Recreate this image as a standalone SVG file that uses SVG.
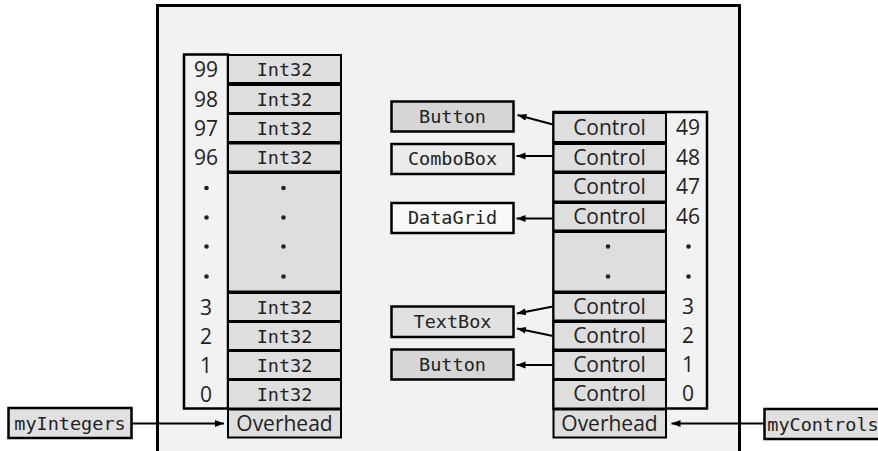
<svg xmlns="http://www.w3.org/2000/svg" width="878" height="451" viewBox="0 0 878 451">
<style>
.cell{fill:#dedede;stroke:#000;stroke-width:2}
.idx{fill:#f2f2f2;stroke:#000;stroke-width:2.5}
.t{font-family:"Open Sans","Noto Sans",sans-serif;font-size:21px;fill:#222;text-anchor:middle}
.m{font-family:"DejaVu Sans Mono","Liberation Mono",monospace;font-size:18.5px;fill:#222;text-anchor:middle}
.box{stroke:#000;stroke-width:2.5}
.dot{fill:#222}
.c{stroke:#000;stroke-width:2;fill:none;marker-end:url(#ah)}
</style>
<defs>
<marker id="ah" markerUnits="userSpaceOnUse" markerWidth="10" markerHeight="8" refX="9" refY="3.5" orient="auto">
<path d="M0,0 L9,3.5 L0,7 z" fill="#000"/>
</marker>
</defs>
<rect width="878" height="451" fill="#fff"/>
<path id="frame" d="M157.5,451 V5.5 H739.5 V451" fill="#f2f2f2" stroke="#000" stroke-width="3"/>

<g id="myIntegersArray">
<rect class="idx" x="184" y="54.5" width="44" height="354"/>
<rect class="cell" x="228" y="55" width="113" height="28"/>
<rect class="cell" x="228" y="85" width="113" height="28"/>
<rect class="cell" x="228" y="114" width="113" height="28"/>
<rect class="cell" x="228" y="143.5" width="113" height="28"/>
<rect class="cell" x="228" y="173" width="113" height="118.5"/>
<rect class="cell" x="228" y="293" width="113" height="28"/>
<rect class="cell" x="228" y="322" width="113" height="28"/>
<rect class="cell" x="228" y="351" width="113" height="28"/>
<rect class="cell" x="228" y="380" width="113" height="28.5"/>
<rect class="cell" x="228" y="409.5" width="113" height="28"/>
<text class="m" x="284.5" y="75.5">Int32</text>
<text class="m" x="284.5" y="105.5">Int32</text>
<text class="m" x="284.5" y="134.5">Int32</text>
<text class="m" x="284.5" y="163.5">Int32</text>
<text class="m" x="284.5" y="313.5">Int32</text>
<text class="m" x="284.5" y="342.5">Int32</text>
<text class="m" x="284.5" y="371.5">Int32</text>
<text class="m" x="284.5" y="400.5">Int32</text>
<text class="t" x="206" y="77">99</text>
<text class="t" x="206" y="107">98</text>
<text class="t" x="206" y="136">97</text>
<text class="t" x="206" y="165">96</text>
<text class="t" x="206" y="315">3</text>
<text class="t" x="206" y="344">2</text>
<text class="t" x="206" y="373">1</text>
<text class="t" x="206" y="402">0</text>
<text class="t" x="284.5" y="431">Overhead</text>
<circle class="dot" cx="206.5" cy="188" r="2.3"/>
<circle class="dot" cx="206.5" cy="217.5" r="2.3"/>
<circle class="dot" cx="206.5" cy="246.5" r="2.3"/>
<circle class="dot" cx="206.5" cy="276.5" r="2.3"/>
<circle class="dot" cx="283.5" cy="188" r="2.3"/>
<circle class="dot" cx="283.5" cy="217.5" r="2.3"/>
<circle class="dot" cx="283.5" cy="246.5" r="2.3"/>
<circle class="dot" cx="283.5" cy="276.5" r="2.3"/>
</g>

<g id="myControlsArray">
<rect class="idx" x="553.5" y="112" width="153.5" height="296.5"/>
<rect class="cell" x="553.5" y="113" width="112.5" height="29"/>
<rect class="cell" x="553.5" y="144" width="112.5" height="27.5"/>
<rect class="cell" x="553.5" y="173" width="112.5" height="28.5"/>
<rect class="cell" x="553.5" y="203" width="112.5" height="27.5"/>
<rect class="cell" x="553.5" y="232" width="112.5" height="59.5"/>
<rect class="cell" x="553.5" y="293" width="112.5" height="27.5"/>
<rect class="cell" x="553.5" y="322" width="112.5" height="27.5"/>
<rect class="cell" x="553.5" y="351" width="112.5" height="28"/>
<rect class="cell" x="553.5" y="380" width="112.5" height="28.5"/>
<rect class="cell" x="553.5" y="409.5" width="112.5" height="28"/>
<text class="t" x="609.5" y="135">Control</text>
<text class="t" x="609.5" y="165">Control</text>
<text class="t" x="609.5" y="194">Control</text>
<text class="t" x="609.5" y="224">Control</text>
<text class="t" x="609.5" y="314">Control</text>
<text class="t" x="609.5" y="343">Control</text>
<text class="t" x="609.5" y="372">Control</text>
<text class="t" x="609.5" y="401">Control</text>
<text class="t" x="609.5" y="431">Overhead</text>
<text class="t" x="688" y="135">49</text>
<text class="t" x="688" y="165">48</text>
<text class="t" x="688" y="194">47</text>
<text class="t" x="688" y="224">46</text>
<text class="t" x="688" y="314">3</text>
<text class="t" x="688" y="343">2</text>
<text class="t" x="688" y="372">1</text>
<text class="t" x="688" y="401">0</text>
<circle class="dot" cx="608" cy="246.5" r="2.3"/>
<circle class="dot" cx="608" cy="276.5" r="2.3"/>
<circle class="dot" cx="688.5" cy="246.5" r="2.3"/>
<circle class="dot" cx="688.5" cy="276.5" r="2.3"/>
</g>

<g id="button1"><rect class="box" x="391.5" y="101.5" width="122" height="30" fill="#d6d6d6"/><text class="m" x="452.5" y="122.5">Button</text></g>
<g id="combobox"><rect class="box" x="391.5" y="144" width="122" height="30" fill="#ebebeb"/><text class="m" x="452.5" y="165">ComboBox</text></g>
<g id="datagrid"><rect class="box" x="391.5" y="203" width="122" height="30" fill="#f8f8f8"/><text class="m" x="452.5" y="224">DataGrid</text></g>
<g id="textbox"><rect class="box" x="391.5" y="306.5" width="122" height="30.5" fill="#e0e0e0"/><text class="m" x="452.5" y="328">TextBox</text></g>
<g id="button2"><rect class="box" x="391.5" y="349.5" width="122" height="30" fill="#d6d6d6"/><text class="m" x="452.5" y="371">Button</text></g>
<g id="myIntegers"><rect class="box" x="8.5" y="408" width="123" height="30" fill="#e0e0e0"/><text class="m" x="70" y="429.5">myIntegers</text></g>
<g id="myControls"><rect class="box" x="764.5" y="409" width="125" height="30" fill="#e0e0e0"/><text class="m" x="823" y="430.5">myControls</text></g>

<g id="connectors">
<line class="c" x1="132" y1="423.5" x2="224" y2="423.5"/>
<line class="c" x1="764" y1="423.5" x2="671.5" y2="423.5"/>
<line class="c" x1="553" y1="124.5" x2="517.5" y2="115"/>
<line class="c" x1="553" y1="156" x2="516.5" y2="156"/>
<line class="c" x1="553" y1="218.5" x2="516.5" y2="218.5"/>
<line class="c" x1="553" y1="306.5" x2="517" y2="313.5"/>
<line class="c" x1="553" y1="336" x2="517" y2="328.5"/>
<line class="c" x1="553" y1="365" x2="516.5" y2="365"/>
</g>
</svg>
